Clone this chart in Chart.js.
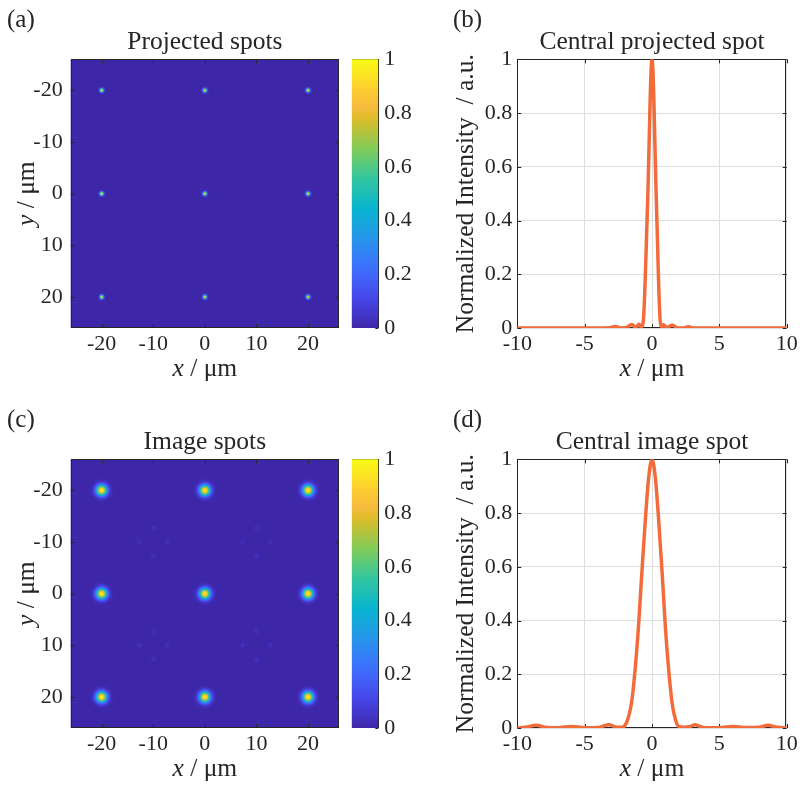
<!DOCTYPE html>
<html>
<head>
<meta charset="utf-8">
<script src="https://cdn.jsdelivr.net/npm/chart.js@4/dist/chart.umd.min.js"></script>
<style>
  body { margin: 0; background: #fff; }
  #wrap { position: relative; width: 801px; height: 786px; }
  canvas { position: absolute; }
</style>
</head>
<body>
<div id="wrap">
  <canvas id="mapA" width="345" height="386" style="left:0;top:0"></canvas>
  <canvas id="cbA" width="95" height="386" style="left:345px;top:0"></canvas>
  <canvas id="lineB" width="361" height="386" style="left:440px;top:0"></canvas>
  <canvas id="mapC" width="345" height="386" style="left:0;top:400px"></canvas>
  <canvas id="cbC" width="95" height="386" style="left:345px;top:400px"></canvas>
  <canvas id="lineD" width="361" height="386" style="left:440px;top:400px"></canvas>
</div>
<script>
// spot grid of the heatmaps (um)
const spotX = [-20, 0, 20];
const spotY = [-20, 0, 20];
const spotPeak = 1;
// faint side spots seen in the image map
const ghostX = [-12.7, -7.3, -10, -10, 7.3, 12.7, 10, 10, -12.7, -7.3, -10, -10, 7.3, 12.7, 10, 10];
const ghostY = [-10, -10, -12.7, -7.3, -10, -10, -12.7, -7.3, 10, 10, 7.3, 12.7, 10, 10, 7.3, 12.7];
const ghostPeak = 0.045;

const mapTicks = [-20, -10, 0, 10, 20];
const mapTickLabels = ['-20', '-10', '0', '10', '20'];
const cbTicks = [0, 0.2, 0.4, 0.6, 0.8, 1];
const cbTickLabels = ['0', '0.2', '0.4', '0.6', '0.8', '1'];
const lineXTicks = [-10, -5, 0, 5, 10];
const lineXTickLabels = ['-10', '-5', '0', '5', '10'];

// central projected spot profile
const projX = [-10, -4, -3.2, -2.75, -2.3, -1.9, -1.5, -1.2, -0.97, -0.82, -0.66, -0.33, 0, 0.33, 0.62, 0.75, 0.85, 1.1, 1.5, 1.85, 2.3, 2.7, 3.1, 4, 10];
const projI = [0, 0, 0.001, 0.006, 0, 0.002, 0.013, 0.002, 0.014, 0.004, 0.02, 0.46, 1, 0.46, 0.02, 0.004, 0.012, 0.002, 0.011, 0.001, 0, 0.005, 0, 0, 0];

// central image spot profile
const imgX = [-10, -9.4, -8.6, -7.8, -7, -6, -5, -4, -3.2, -2.6, -2.2, -2, -1.75, -1.5, -1.25, -1, -0.75, -0.5, -0.25, 0, 0.25, 0.5, 0.75, 1, 1.25, 1.5, 1.75, 2, 2.4, 2.8, 3.2, 3.8, 4.5, 5.2, 6, 7, 8, 8.6, 9.3, 10];
const imgI = [0, 0.003, 0.01, 0.002, 0.001, 0.006, 0.001, 0.002, 0.012, 0.003, 0.003, 0.01, 0.04, 0.1, 0.22, 0.38, 0.58, 0.77, 0.93, 1, 0.93, 0.77, 0.58, 0.37, 0.21, 0.09, 0.03, 0.005, 0.003, 0.005, 0.012, 0.002, 0.001, 0.002, 0.006, 0.002, 0.003, 0.01, 0.003, 0];

const ink = '#262626';
const lineColor = '#f26b3a';
const serif = "'Liberation Serif', 'Times New Roman', serif";
Chart.defaults.font.family = serif;
Chart.defaults.color = ink;

// parula colormap
const parulaStops = [
  [0, 62, 38, 168], [0.111, 71, 71, 235], [0.222, 62, 111, 255], [0.333, 39, 150, 235],
  [0.444, 8, 181, 208], [0.556, 49, 198, 159], [0.667, 129, 204, 89], [0.778, 220, 189, 41],
  [0.825, 248, 186, 61], [0.889, 252, 207, 48], [1, 249, 251, 21]
];
function parula(v) {
  v = Math.max(0, Math.min(1, v));
  for (let i = 1; i < parulaStops.length; i++) {
    const a = parulaStops[i - 1], b = parulaStops[i];
    if (v <= b[0]) {
      const t = (v - a[0]) / (b[0] - a[0]);
      return [1, 2, 3].map(k => Math.round(a[k] + t * (b[k] - a[k])));
    }
  }
  return parulaStops[parulaStops.length - 1].slice(1);
}
const rgb = c => `rgb(${c[0]},${c[1]},${c[2]})`;

// small gaussian sprite used as point style
function makeSpot(sigma, peak) {
  const R = Math.ceil(sigma * 4);
  const n = 2 * R + 1;
  const c = document.createElement('canvas');
  c.width = n; c.height = n;
  const g = c.getContext('2d');
  const img = g.createImageData(n, n);
  for (let j = 0; j < n; j++) {
    for (let i = 0; i < n; i++) {
      const r2 = (i - R) ** 2 + (j - R) ** 2;
      const col = parula(peak * Math.exp(-r2 / (2 * sigma * sigma)));
      const k = 4 * (j * n + i);
      img.data[k] = col[0]; img.data[k + 1] = col[1]; img.data[k + 2] = col[2]; img.data[k + 3] = 255;
    }
  }
  g.putImageData(img, 0, 0);
  return c;
}

function drawRich(ctx, parts, x, y, rot, size) {
  ctx.save();
  ctx.translate(x, y);
  ctx.rotate(rot);
  const fonts = parts.map(p => `${p.italic ? 'italic ' : ''}${size}px ${serif}`);
  let total = 0;
  const widths = parts.map((p, i) => {
    ctx.font = fonts[i];
    const w = ctx.measureText(p.text).width;
    total += w;
    return w;
  });
  ctx.fillStyle = ink;
  ctx.textAlign = 'left';
  ctx.textBaseline = 'alphabetic';
  let cx = -total / 2;
  parts.forEach((p, i) => {
    ctx.font = fonts[i];
    ctx.fillText(p.text, cx, 0);
    cx += widths[i];
  });
  ctx.restore();
}

// box, inward ticks and optional field colour
const framePlugin = {
  id: 'frame',
  beforeDatasetsDraw(chart, args, opts) {
    const { ctx, chartArea: a, scales } = chart;
    ctx.save();
    if (opts.fill) {
      ctx.fillStyle = opts.fill;
      ctx.fillRect(a.left, a.top, a.right - a.left, a.bottom - a.top);
    }
    ctx.strokeStyle = ink;
    ctx.lineWidth = 1;
    ctx.strokeRect(Math.round(a.left) + 0.5, Math.round(a.top) + 0.5, Math.round(a.right - a.left) - 1, Math.round(a.bottom - a.top) - 1);
    const len = opts.len || 4;
    ctx.beginPath();
    if (opts.xTicks && scales.x) {
      scales.x.ticks.forEach(t => {
        const px = Math.round(scales.x.getPixelForValue(t.value)) + 0.5;
        ctx.moveTo(px, a.bottom); ctx.lineTo(px, a.bottom - len);
        ctx.moveTo(px, a.top); ctx.lineTo(px, a.top + len);
      });
    }
    if (opts.yTicks && scales.y) {
      scales.y.ticks.forEach(t => {
        const py = Math.round(scales.y.getPixelForValue(t.value)) + 0.5;
        if (opts.yTicks !== 'right') { ctx.moveTo(a.left, py); ctx.lineTo(a.left + len, py); }
        ctx.moveTo(a.right, py); ctx.lineTo(a.right - len, py);
      });
    }
    ctx.stroke();
    ctx.restore();
  }
};

// panel letter and axis labels with italic symbols
const labelPlugin = {
  id: 'labels',
  afterDraw(chart, args, opts) {
    const { ctx, chartArea: a } = chart;
    if (opts.panel) {
      ctx.save();
      ctx.font = `25px ${serif}`;
      ctx.fillStyle = ink;
      ctx.textBaseline = 'alphabetic';
      ctx.fillText(opts.panel, opts.panelX, 26.5);
      ctx.restore();
    }
    if (opts.xLabel) drawRich(ctx, opts.xLabel, (a.left + a.right) / 2, a.bottom + 48, 0, 25.5);
    if (opts.yLabel) drawRich(ctx, opts.yLabel, a.left - opts.yGap, (a.top + a.bottom) / 2, -Math.PI / 2, 25.5);
  }
};

const titleOpts = text => ({
  display: true, text, color: ink, fullSize: false,
  font: { size: 25.5, weight: 'normal' },
  padding: { top: 26.6, bottom: 2.1 }
});
const fixedTicks = values => s => { s.ticks = values.map(v => ({ value: v })); };

const umLabelX = [{ text: 'x', italic: true }, { text: ' / \u03bcm' }];
const umLabelY = [{ text: 'y', italic: true }, { text: ' / \u03bcm' }];

function mapChart(id, title, panel, datasets) {
  return new Chart(document.getElementById(id), {
    type: 'scatter',
    data: { datasets },
    plugins: [framePlugin, labelPlugin],
    options: {
      responsive: false, devicePixelRatio: 1, animation: false, events: [],
      layout: { padding: { left: 0, right: 4.3, top: 0, bottom: 0 } },
      plugins: {
        legend: { display: false }, tooltip: { enabled: false },
        title: titleOpts(title),
        frame: { fill: rgb(parula(0)), len: 4, xTicks: true, yTicks: 'both' },
        labels: { panel, panelX: 7, xLabel: umLabelX, yLabel: umLabelY, yGap: 36.7 }
      },
      scales: {
        x: {
          type: 'linear', min: -26, max: 26,
          afterBuildTicks: fixedTicks(mapTicks),
          afterFit: s => { s.height = 58; },
          ticks: { callback: (v, i) => mapTickLabels[i], padding: 3, font: { size: 22 }, maxRotation: 0, autoSkip: false },
          grid: { display: false, drawTicks: false }, border: { display: false }
        },
        y: {
          type: 'linear', min: -26, max: 26, reverse: true,
          afterBuildTicks: fixedTicks(mapTicks),
          afterFit: s => { s.width = 70.7; },
          ticks: { callback: (v, i) => mapTickLabels[i], padding: 8, font: { size: 22 }, autoSkip: false },
          grid: { display: false, drawTicks: false }, border: { display: false }
        }
      }
    }
  });
}

function colorbar(id) {
  return new Chart(document.getElementById(id), {
    type: 'bar',
    data: {
      labels: ['c'],
      datasets: [{
        data: [[cbTicks[0], cbTicks[cbTicks.length - 1]]],
        borderWidth: 0, barPercentage: 1, categoryPercentage: 1,
        backgroundColor: c => {
          const { chart } = c;
          if (!chart.chartArea) return rgb(parula(0.5));
          const y = chart.scales.y;
          const g = chart.ctx.createLinearGradient(0, y.getPixelForValue(0), 0, y.getPixelForValue(1));
          parulaStops.forEach(s => g.addColorStop(s[0], `rgb(${s[1]},${s[2]},${s[3]})`));
          return g;
        }
      }]
    },
    plugins: [framePlugin],
    options: {
      responsive: false, devicePixelRatio: 1, animation: false, events: [],
      layout: { padding: { left: 6.7, right: 0, top: 59.3, bottom: 58 } },
      plugins: {
        legend: { display: false }, tooltip: { enabled: false },
        frame: { len: 3, yTicks: 'right' }
      },
      scales: {
        x: { display: false },
        y: {
          position: 'right', min: 0, max: 1,
          afterBuildTicks: fixedTicks(cbTicks),
          afterFit: s => { s.width = 61.7; },
          ticks: { callback: (v, i) => cbTickLabels[i], padding: 6, font: { size: 22 }, autoSkip: false },
          grid: { display: false, drawTicks: false }, border: { display: false }
        }
      }
    }
  });
}

function lineChart(id, title, panel, xs, ys) {
  return new Chart(document.getElementById(id), {
    type: 'line',
    data: {
      datasets: [{
        data: xs.map((x, i) => ({ x, y: ys[i] })),
        borderColor: lineColor, borderWidth: 3.5, pointRadius: 0,
        cubicInterpolationMode: 'monotone', fill: false
      }]
    },
    plugins: [framePlugin, labelPlugin],
    options: {
      responsive: false, devicePixelRatio: 1, animation: false, events: [],
      layout: { padding: { left: 0, right: 14.3, top: 0, bottom: 0 } },
      plugins: {
        legend: { display: false }, tooltip: { enabled: false },
        title: titleOpts(title),
        frame: { len: 4, xTicks: true, yTicks: 'both' },
        labels: { panel, panelX: 13, xLabel: umLabelX, yLabel: [{ text: 'Normalized Intensity  / a.u.' }], yGap: 44.3 }
      },
      scales: {
        x: {
          type: 'linear', min: -10, max: 10,
          afterBuildTicks: fixedTicks(lineXTicks),
          afterFit: s => { s.height = 58; },
          ticks: { callback: (v, i) => lineXTickLabels[i], padding: 3, font: { size: 22 }, maxRotation: 0, autoSkip: false },
          grid: { color: '#dedede', drawTicks: false }, border: { display: false }
        },
        y: {
          type: 'linear', min: 0, max: 1,
          afterBuildTicks: fixedTicks(cbTicks),
          afterFit: s => { s.width = 77.3; },
          ticks: { callback: (v, i) => cbTickLabels[i], padding: 5, font: { size: 22 }, autoSkip: false },
          grid: { color: '#dedede', drawTicks: false }, border: { display: false }
        }
      }
    }
  });
}

const spotPts = spotY.flatMap(y => spotX.map(x => ({ x, y })));
const ghostPts = ghostX.map((x, i) => ({ x, y: ghostY[i] }));

mapChart('mapA', 'Projected spots', '(a)', [
  { data: spotPts, pointStyle: makeSpot(1.3, spotPeak), pointRadius: 5 }
]);
colorbar('cbA');
lineChart('lineB', 'Central projected spot', '(b)', projX, projI);

mapChart('mapC', 'Image spots', '(c)', [
  { data: ghostPts, pointStyle: makeSpot(1.6, ghostPeak), pointRadius: 5 },
  { data: spotPts, pointStyle: makeSpot(3.7, spotPeak), pointRadius: 5 }
]);
colorbar('cbC');
lineChart('lineD', 'Central image spot', '(d)', imgX, imgI);
</script>
</body>
</html>
